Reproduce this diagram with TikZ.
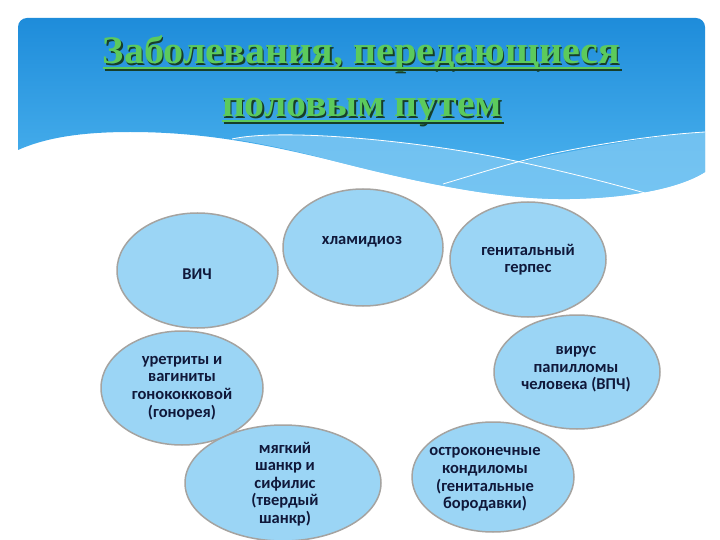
\documentclass[tikz,border=0pt]{standalone}
\usepackage{fontspec}
\usepackage{graphicx}
\usetikzlibrary{shapes.geometric}
\setmainfont{Carlito}
\newfontfamily\titlefont{Liberation Serif}
\definecolor{bluetop}{RGB}{30,140,218}
\definecolor{bluebot}{RGB}{80,182,240}
\definecolor{bandblue}{RGB}{130,202,244}
\definecolor{ellfill}{RGB}{155,213,245}
\definecolor{ellline}{RGB}{165,163,160}
\definecolor{navy}{RGB}{16,24,58}
\definecolor{titlegreen}{RGB}{92,202,92}
\definecolor{titleshadow}{RGB}{22,62,42}
\newcommand{\shadowtitle}[2]{\makebox[0pt][l]{\hspace{1.5pt}\raisebox{-2pt}{\color{titleshadow}\resizebox{#1}{\height}{#2}}}{\color{titlegreen}\resizebox{#1}{\height}{#2}}}
\tikzset{
  bubble/.style={ellipse, draw=ellline, line width=1.5pt, fill=ellfill, inner sep=0pt},
  bubbletext/.style={text=navy, align=center, font=\bfseries\fontsize{16.5}{17.6}\selectfont, inner sep=0pt},
  titletext/.style={anchor=base, inner sep=0pt, font=\titlefont\bfseries\fontsize{39}{39}\selectfont},
}
\begin{document}
\begin{tikzpicture}[x=1pt,y=-1pt]
\useasboundingbox (0,0) rectangle (720,540);
% blue header
\path[top color=bluetop, bottom color=bluebot]
  (18,150) -- (18,27) arc[start angle=180,end angle=270,radius=9] -- (696,18)
  arc[start angle=270,end angle=360,radius=9] -- (705,172)
  .. controls (680,188) and (630,198) .. (570,199)
  .. controls (500,200) and (420,183) .. (330,160)
  .. controls (260,143) and (200,132) .. (130,132)
  .. controls (80,132) and (45,138) .. (18,150) -- cycle;
% light band
\path[fill=bandblue, opacity=0.75]
  (232,139) .. controls (280,128) and (420,140) .. (520,162)
  .. controls (600,145) and (660,135) .. (705,132) -- (705,172)
  .. controls (680,188) and (630,198) .. (570,199)
  .. controls (500,200) and (420,183) .. (330,160)
  .. controls (300,152) and (265,144) .. (232,139) -- cycle;
% white lines
\draw[white, line width=0.8pt]
  (232,139) .. controls (280,128) and (420,140) .. (520,162)
  .. controls (580,175) and (620,186) .. (645,193);
\draw[white, line width=0.8pt]
  (443,184) .. controls (490,170) and (520,160) .. (560,152)
  .. controls (620,140) and (670,134) .. (705,132);
% title
\node[titletext] (t1) at (361.5,64) {\shadowtitle{517pt}{Заболевания, передающиеся}};
\node[titletext] (t2) at (362,117) {\shadowtitle{280pt}{половым путем}};
\draw[titleshadow, line width=2.5pt] (104.5,70) -- (621.5,70);
\draw[titlegreen, line width=2.5pt] (103,68) -- (620,68);
\draw[titleshadow, line width=2.5pt] (223.5,123) -- (503.5,123);
\draw[titlegreen, line width=2.5pt] (222,121) -- (502,121);
% bubbles
\node[bubble, minimum width=161pt, minimum height=115pt] (e1) at (197.5,270.5) {};
\node[bubble, minimum width=160pt, minimum height=117pt] (e2) at (363,247.5) {};
\node[bubble, minimum width=156pt, minimum height=115pt] (e3) at (528,259.5) {};
\node[bubble, minimum width=166pt, minimum height=114pt] (e4) at (577,372) {};
\node[bubble, minimum width=162pt, minimum height=114pt] (e5) at (182,388) {};
\node[bubble, minimum width=196pt, minimum height=116pt] (e6) at (283,483) {};
\node[bubble, minimum width=162pt, minimum height=110pt] (e7) at (493,477) {};
% texts
\node[bubbletext] (l1) at (197,274) {ВИЧ};
\node[bubbletext] (l2) at (362,242) {хламидиоз};
\node[bubbletext] (l3) at (528,259.5) {генитальный\\герпес};
\node[bubbletext] (l4) at (576,369.5) {вирус\\папилломы\\человека (ВПЧ)};
\node[bubbletext] (l5) at (182,388) {уретриты и\\вагиниты\\гонококковой\\(гонорея)};
\node[bubbletext] (l6) at (285,484) {мягкий\\шанкр и\\сифилис\\(твердый\\шанкр)};
\node[bubbletext] (l7) at (485,479.5) {остроконечные\\кондиломы\\(генитальные\\бородавки)};
\end{tikzpicture}
\end{document}
